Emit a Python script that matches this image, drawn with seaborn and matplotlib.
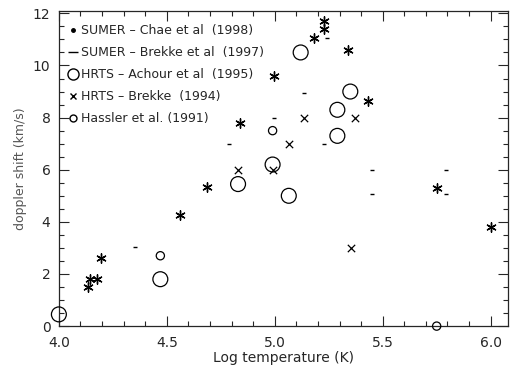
import pandas as pd
import matplotlib
matplotlib.use("Agg")
import matplotlib.pyplot as plt
import seaborn as sns
from matplotlib.lines import Line2D
from matplotlib.ticker import MultipleLocator

# SUMER - Chae et al (1998)
chae_logt = [4.135, 4.145, 4.178, 4.195, 4.563, 4.688, 4.837, 4.995, 5.18, 5.23, 5.23, 5.34, 5.43, 5.75, 6.0]
chae_v = [1.5, 1.8, 1.8, 2.6, 4.25, 5.35, 7.8, 9.6, 11.05, 11.4, 11.7, 10.6, 8.65, 5.3, 3.8]

# SUMER - Brekke et al (1997)
brekke97_logt = [4.353, 4.79, 4.995, 5.135, 5.228, 5.24, 5.45, 5.45, 5.795, 5.795]
brekke97_v = [3.05, 7.0, 8.0, 8.95, 7.0, 11.05, 6.0, 5.05, 6.0, 5.05]

# HRTS - Achour et al (1995)
achour_logt = [4.0, 4.47, 4.83, 5.065, 4.99, 5.12, 5.35, 5.29, 5.29]
achour_v = [0.45, 1.8, 5.45, 5.0, 6.2, 10.5, 9.0, 8.3, 7.3]

# HRTS - Brekke (1994)
brekke94_logt = [5.135, 5.065, 4.83, 4.99, 5.37, 5.355]
brekke94_v = [8.0, 7.0, 6.0, 6.0, 8.0, 3.0]

# Hassler et al. (1991)
hassler_logt = [4.47, 4.99, 5.75]
hassler_v = [2.7, 7.5, 0.0]

labels = [
    "SUMER – Chae et al  (1998)",
    "SUMER – Brekke et al  (1997)",
    "HRTS – Achour et al  (1995)",
    "HRTS – Brekke  (1994)",
    "Hassler et al. (1991)",
]

sns.set_style("ticks")
plt.rcParams["font.family"] = ["DejaVu Sans"]

fig = plt.figure(figsize=(5.12, 3.71), dpi=100)
ax = fig.add_axes([0.115, 0.121, 0.877, 0.85])

series = [
    (chae_logt, chae_v, dict(marker=(6, 2, 0), s=45, color="black", linewidth=1.0)),
    (brekke97_logt, brekke97_v, dict(marker="_", s=12, color="black", linewidth=1.0)),
    (achour_logt, achour_v, dict(marker="o", s=115, facecolor="none", edgecolor="black", linewidth=0.9)),
    (brekke94_logt, brekke94_v, dict(marker="x", s=28, color="black", linewidth=0.9)),
    (hassler_logt, hassler_v, dict(marker="o", s=35, facecolor="none", edgecolor="black", linewidth=0.9)),
]

for x, y, style in series:
    df = pd.DataFrame({"logt": x, "v": y})
    sns.scatterplot(data=df, x="logt", y="v", ax=ax, clip_on=False, zorder=3, **style)

ax.set_xlim(4.0, 6.08)
ax.set_ylim(0, 12.1)
ax.set_xticks([4.0, 4.5, 5.0, 5.5, 6.0])
ax.set_yticks([0, 2, 4, 6, 8, 10, 12])
ax.xaxis.set_minor_locator(MultipleLocator(0.1))
ax.yaxis.set_minor_locator(MultipleLocator(0.5))
ax.tick_params(which="both", direction="in", top=True, right=True, labelsize=10, width=0.8)
ax.tick_params(which="major", length=7)
ax.tick_params(which="minor", length=3.5)
ax.tick_params(axis="x", which="major", pad=7)
ax.tick_params(axis="y", which="major", pad=6)
for sp in ax.spines.values():
    sp.set_linewidth(0.9)

ax.set_xlabel("Log temperature (K)", fontsize=10, labelpad=1)
ax.set_ylabel("doppler shift (km/s)", fontsize=9, color="#555555")

handles = [
    Line2D([], [], linestyle="none", marker=".", markersize=5, color="black"),
    Line2D([], [], linestyle="none", marker="_", markersize=7, color="black"),
    Line2D([], [], linestyle="none", marker="o", markersize=8, markerfacecolor="none", markeredgecolor="black"),
    Line2D([], [], linestyle="none", marker="x", markersize=5, color="black"),
    Line2D([], [], linestyle="none", marker="o", markersize=5, markerfacecolor="none", markeredgecolor="black"),
]
ax.legend(handles, labels, loc="upper left", frameon=False, fontsize=9,
          handletextpad=0.25, handlelength=0.8, labelspacing=0.72,
          borderaxespad=0.3, bbox_to_anchor=(0.0, 0.985))

fig.savefig("out.png", dpi=100)
